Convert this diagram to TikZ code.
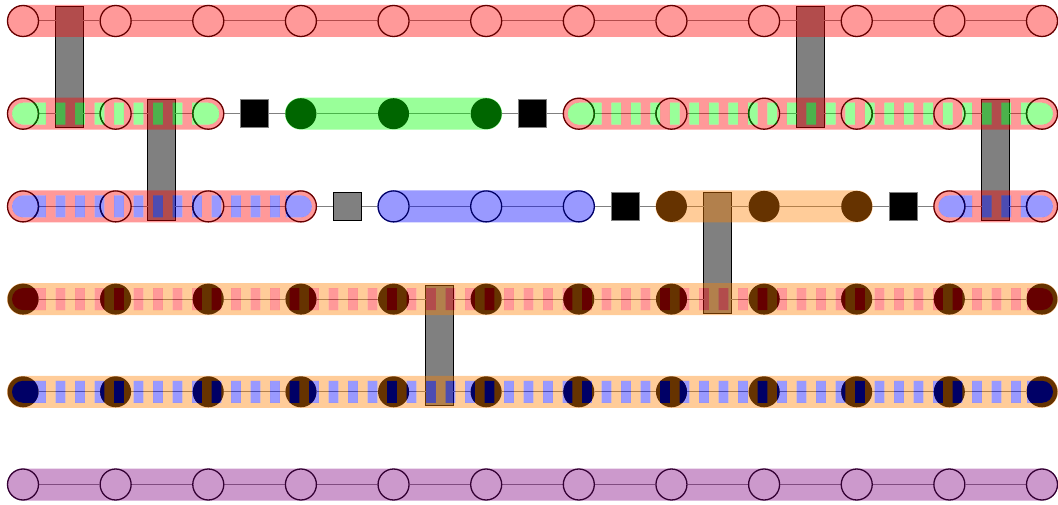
\documentclass[tikz,border=0pt]{standalone}
\usetikzlibrary{calc}
\pgfdeclarelayer{boxes}
\pgfdeclarelayer{wires}
\pgfdeclarelayer{bands}
\pgfsetlayers{boxes,wires,bands,main}
\definecolor{cred}{RGB}{255,0,0}
\definecolor{dred}{RGB}{102,0,0}
\definecolor{cgreen}{RGB}{0,255,0}
\definecolor{dgreen}{RGB}{0,102,0}
\definecolor{cblue}{RGB}{0,0,255}
\definecolor{dblue}{RGB}{0,0,102}
\definecolor{corange}{RGB}{255,128,0}
\definecolor{dorange}{RGB}{102,51,0}
\definecolor{cpurple}{RGB}{128,0,128}
\definecolor{dpurple}{RGB}{51,0,51}
\definecolor{cgray}{RGB}{128,128,128}
% solid band (stadium) from x=#1 to x=#2 at height #3
\newcommand\Stad[3]{(#1,{#3-16}) -- (#2,{#3-16}) arc[start angle=-90,end angle=90,radius=16] -- (#1,{#3+16}) arc[start angle=90,end angle=270,radius=16] -- cycle }
% dashed band region from x=#1 to x=#2 at height #3, #4 = last dash index
\newcommand\Dreg[4]{(#1,{#3-11}) -- ({#1+15},{#3-11}) -- ({#1+15},{#3+11}) -- (#1,{#3+11}) arc[start angle=90,end angle=270,radius=11] -- cycle
 (#2,{#3-11}) arc[start angle=-90,end angle=90,radius=11] -- ({#2-15},{#3+11}) -- ({#2-15},{#3-11}) -- cycle
 foreach \k [evaluate=\k as \da using {max(#1+13+19.5*\k,#1+15)}, evaluate=\k as \db using {max(min(#1+22.75+19.5*\k,#2-15),\da)}] in {0,...,#4} {(\da,{#3-11}) rectangle (\db,{#3+11})} }
\begin{document}
\begin{tikzpicture}[x=1pt,y=1pt,
  ocirc/.style={circle,minimum size=31pt,inner sep=0pt,draw=#1,line width=1.3pt},
  fcirc/.style={circle,minimum size=31pt,inner sep=0pt,fill=#1},
  blksq/.style={rectangle,minimum size=28pt,inner sep=0pt,fill=black,draw=cgray,line width=1pt},
  graysq/.style={rectangle,minimum size=28pt,inner sep=0pt,fill=cgray,draw=black,line width=1pt},
  wire/.style={draw=cgray,line width=1pt},
  linkbox/.style={fill=cgray,draw=black,line width=1pt},
  band/.style={fill=#1,opacity=.4}]
\useasboundingbox (0,0) rectangle (1058,504);
\foreach \j in {0,...,5}{
  \foreach \i in {0,...,11}{\coordinate (p-\j-\i) at ({23+92.636*\i},{483-92.7*\j});}
  \foreach \i in {0,...,10}{\coordinate (m-\j-\i) at ({69.318+92.636*\i},{483-92.7*\j});}
}
% nodes
\foreach \i in {0,...,11} \node[ocirc=dred] (n0-\i) at (p-0-\i) {};
\foreach \i in {0,1,2,6,7,8,9,10,11} \node[ocirc=dred] (n1-\i) at (p-1-\i) {};
\foreach \i in {3,4,5} \node[fcirc=dgreen] (n1-\i) at (p-1-\i) {};
\node[blksq] (s1-2) at (m-1-2) {};
\node[blksq] (s1-5) at (m-1-5) {};
\foreach \i in {0,1,2,3,10,11} \node[ocirc=dred] (n2-\i) at (p-2-\i) {};
\foreach \i in {4,5,6} \node[ocirc=dblue] (n2-\i) at (p-2-\i) {};
\foreach \i in {7,8,9} \node[fcirc=dorange] (n2-\i) at (p-2-\i) {};
\node[graysq] (s2-3) at (m-2-3) {};
\node[blksq] (s2-6) at (m-2-6) {};
\node[blksq] (s2-9) at (m-2-9) {};
\foreach \i in {0,...,11} \node[fcirc=dorange] (n3-\i) at (p-3-\i) {};
\foreach \i in {0,...,11} \node[fcirc=dorange] (n4-\i) at (p-4-\i) {};
\foreach \i in {0,...,11} \node[ocirc=dpurple] (n5-\i) at (p-5-\i) {};
% gray link boxes
\begin{pgfonlayer}{boxes}
\draw[linkbox] ($(m-0-0)+(-14,14)$) rectangle ($(m-1-0)+(14,-14)$);
\draw[linkbox] ($(m-1-1)+(-14,14)$) rectangle ($(m-2-1)+(14,-14)$);
\draw[linkbox] ($(m-0-8)+(-14,14)$) rectangle ($(m-1-8)+(14,-14)$);
\draw[linkbox] ($(m-1-10)+(-14,14)$) rectangle ($(m-2-10)+(14,-14)$);
\draw[linkbox] ($(m-2-7)+(-14,14)$) rectangle ($(m-3-7)+(14,-14)$);
\draw[linkbox] ($(m-3-4)+(-14,14)$) rectangle ($(m-4-4)+(14,-14)$);
\end{pgfonlayer}
% wires
\begin{pgfonlayer}{wires}
\foreach \j in {0,3,4,5}{\foreach \i [evaluate=\i as \k using int(\i+1)] in {0,...,10}{\draw[wire] (n\j-\i) -- (n\j-\k);}}
\draw[wire] (n1-0) -- (n1-1) -- (n1-2) -- (s1-2) -- (n1-3) -- (n1-4) -- (n1-5) -- (s1-5) -- (n1-6) -- (n1-7) -- (n1-8) -- (n1-9) -- (n1-10) -- (n1-11);
\draw[wire] (n2-0) -- (n2-1) -- (n2-2) -- (n2-3) -- (s2-3) -- (n2-4) -- (n2-5) -- (n2-6) -- (s2-6) -- (n2-7) -- (n2-8) -- (n2-9) -- (s2-9) -- (n2-10) -- (n2-11);
\end{pgfonlayer}
% bands
\begin{pgfonlayer}{bands}
\fill[band=cred] \Stad{23}{1042}{483};
\fill[band=cred,even odd rule] \Stad{23}{208.273}{390.3} \Dreg{23}{208.273}{390.3}{8};
\fill[band=cgreen] \Dreg{23}{208.273}{390.3}{8};
\fill[band=cgreen] \Stad{300.909}{486.182}{390.3};
\fill[band=cred,even odd rule] \Stad{578.818}{1042}{390.3} \Dreg{578.818}{1042}{390.3}{22};
\fill[band=cgreen] \Dreg{578.818}{1042}{390.3}{22};
\fill[band=cred,even odd rule] \Stad{23}{300.909}{297.6} \Dreg{23}{300.909}{297.6}{12};
\fill[band=cblue] \Dreg{23}{300.909}{297.6}{12};
\fill[band=cblue] \Stad{393.545}{578.818}{297.6};
\fill[band=corange] \Stad{671.455}{856.727}{297.6};
\fill[band=cred,even odd rule] \Stad{949.364}{1042}{297.6} \Dreg{949.364}{1042}{297.6}{3};
\fill[band=cblue] \Dreg{949.364}{1042}{297.6}{3};
\fill[band=corange,even odd rule] \Stad{23}{1042}{204.9} \Dreg{23}{1042}{204.9}{50};
\fill[band=cred] \Dreg{23}{1042}{204.9}{50};
\fill[band=corange,even odd rule] \Stad{23}{1042}{112.2} \Dreg{23}{1042}{112.2}{50};
\fill[band=cblue] \Dreg{23}{1042}{112.2}{50};
\fill[band=cpurple] \Stad{23}{1042}{19.5};
\end{pgfonlayer}
% dark parts of the dashed layers on the nodes
\begin{scope}
\clip \Dreg{23}{208.273}{390.3}{8};
\foreach \i in {0,1,2} \draw[dgreen,line width=1.3pt] (p-1-\i) circle[radius=15.5];
\end{scope}
\begin{scope}
\clip \Dreg{578.818}{1042}{390.3}{22};
\foreach \i in {6,...,11} \draw[dgreen,line width=1.3pt] (p-1-\i) circle[radius=15.5];
\end{scope}
\begin{scope}
\clip \Dreg{23}{300.909}{297.6}{12};
\foreach \i in {0,...,3} \draw[dblue,line width=1.3pt] (p-2-\i) circle[radius=15.5];
\end{scope}
\begin{scope}
\clip \Dreg{949.364}{1042}{297.6}{3};
\foreach \i in {10,11} \draw[dblue,line width=1.3pt] (p-2-\i) circle[radius=15.5];
\end{scope}
\begin{scope}
\clip \Dreg{23}{1042}{204.9}{50};
\foreach \i in {0,...,11} \fill[dred] (p-3-\i) circle[radius=15.5];
\end{scope}
\begin{scope}
\clip \Dreg{23}{1042}{112.2}{50};
\foreach \i in {0,...,11} \fill[dblue] (p-4-\i) circle[radius=15.5];
\end{scope}
\end{tikzpicture}
\end{document}
